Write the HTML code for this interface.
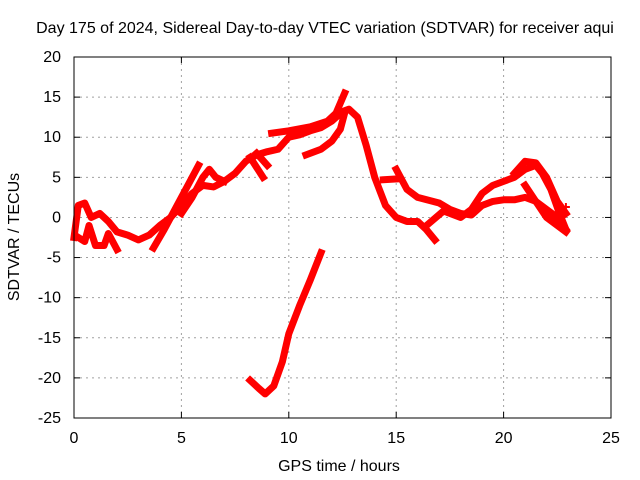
<!DOCTYPE html>
<html><head><meta charset="utf-8"><style>
body{margin:0;background:#fff}
svg{display:block;font-family:"Liberation Sans",sans-serif;font-size:16px}
</style></head><body>
<svg id="c" width="640" height="480">
<text x="325" y="33" text-anchor="middle">Day 175 of 2024, Sidereal Day-to-day VTEC variation (SDTVAR) for receiver aqui</text>
<text x="339" y="471" text-anchor="middle">GPS time / hours</text>
<text transform="translate(19,237) rotate(-90)" text-anchor="middle">SDTVAR / TECUs</text>
<g id="grid"></g><g id="ticks"></g><g id="series"></g>
<rect x="74" y="57" width="537" height="361" fill="none" stroke="#000"/>
</svg>
<script>
const xTicks=[0,5,10,15,20,25];
const yTicks=[20,15,10,5,0,-5,-10,-15,-20,-25];
const track1=[[0,-2.5],[0.2,1.5],[0.5,1.8],[0.8,0],[1.2,0.5],[1.6,-0.5],[2,-1.8],[2.5,-2.2],[3,-2.8],[3.5,-2.2],[4,-1],[4.5,0],[5,1.5],[5.5,3],[6,4],[6.5,3.8],[7,4.5],[7.5,5.5],[8,7],[8.5,7.8],[9,8.2],[9.5,8.5],[10,10],[10.5,10.3],[11,10.8],[11.5,11.2],[12,12],[12.5,13.2],[12.8,13.5],[13.2,12.5],[13.6,9],[14,5],[14.5,1.5],[15,0],[15.5,-0.5],[16,-0.5],[16.4,-1.5],[16.8,-2.8]];
const track2=[[3.7,-3.8],[4.2,-1.5],[4.7,1],[5.3,4],[5.8,6.5]];
const track3=[[5,0.5],[5.5,2.5],[6,5],[6.3,6],[6.6,5],[7,4.5]];
const track4=[[8.2,7.5],[8.8,5]];
const track5=[[9.2,10.5],[10,10.8],[11,11.3],[11.8,12],[12.2,13],[12.6,15.5]];
const track6=[[10.8,7.8],[11.5,8.5],[12,9.5],[12.4,11],[12.6,13]];
const track7=[[14.4,4.7],[15,4.8]];
const track8=[[15,6],[15.5,3.5],[16,2.5],[17,1.8],[17.5,1],[18,0.5],[18.5,0.3],[19,1.5],[19.5,2],[20,2.2],[20.5,2.2],[21,2.5],[21.5,2],[22,1],[22.5,0],[22.9,-1.5]];
const track9=[[16.5,-0.8],[17.2,0.8],[18,0],[18.5,1],[19,3],[19.5,4],[20,4.5],[20.5,5],[21,6],[21.5,6.5],[21.8,5.5],[22.2,3.5],[22.6,0.5],[22.9,-1.5]];
const track10=[[20.5,5.5],[21,7],[21.5,6.8],[22,5],[22.5,2],[22.9,0.5]];
const track11=[[21,4],[21.5,2],[22,0],[22.5,-1],[22.9,-1.8]];
const track12=[[8.2,-20.3],[8.6,-21.3],[8.9,-22],[9.3,-21],[9.7,-18],[10,-14.5],[10.5,-11],[11,-7.8],[11.5,-4.4]];
const track13=[[0.2,-2.5],[0.5,-3],[0.7,-1],[1,-3.5],[1.4,-3.5],[1.6,-2],[2,-4]];
const track14=[[8.5,8],[9,6.5]];
const tracks=[track1,track2,track3,track4,track5,track6,track7,track8,track9,track10,track11,track12,track13,track14];
const ns="http://www.w3.org/2000/svg";
const X=h=>74+h*537/25, Y=v=>57+(20-v)*361/45;
const grid=document.getElementById('grid'),ticks=document.getElementById('ticks'),ser=document.getElementById('series');
function mk(t,a,p){const e=document.createElementNS(ns,t);for(const k in a)e.setAttribute(k,a[k]);p.appendChild(e);return e;}
xTicks.forEach(t=>{const x=X(t);
 if(t>0&&t<25){const g=mk('line',{x1:x,x2:x,y1:57,y2:418,stroke:'#a0a0a0','stroke-dasharray':'2,4'},grid);
 
 }
 const l=mk('text',{x:x,y:443,'text-anchor':'middle'},ticks);l.textContent=t;
 
 
 mk('line',{x1:x,x2:x,y1:418,y2:412,stroke:'#000'},ticks);mk('line',{x1:x,x2:x,y1:57,y2:63,stroke:'#000'},ticks);});
yTicks.forEach(t=>{const y=Y(t);
 if(t<20&&t>-25){const g=mk('line',{x1:74,x2:611,y1:y,y2:y,stroke:'#a0a0a0','stroke-dasharray':'2,4'},grid);
 
 }
 const l=mk('text',{x:61,y:y+5,'text-anchor':'end'},ticks);l.textContent=t;
 
 
 mk('line',{x1:74,x2:80,y1:y,y2:y,stroke:'#000'},ticks);mk('line',{x1:611,x2:605,y1:y,y2:y,stroke:'#000'},ticks);});
tracks.forEach(tr=>{const p=mk('polyline',{points:tr.map(d=>X(d[0])+','+Y(d[1])).join(' '),fill:'none',stroke:'#ff0000','stroke-width':7,'stroke-linejoin':'round','stroke-linecap':'square'},ser);
 
 });
const m=mk('path',{d:`M${X(22.9)-4},${Y(1.3)}h8M${X(22.9)},${Y(1.3)-4}v8`,stroke:'#ff0000','stroke-width':2},ser);


</script>
</body></html>
